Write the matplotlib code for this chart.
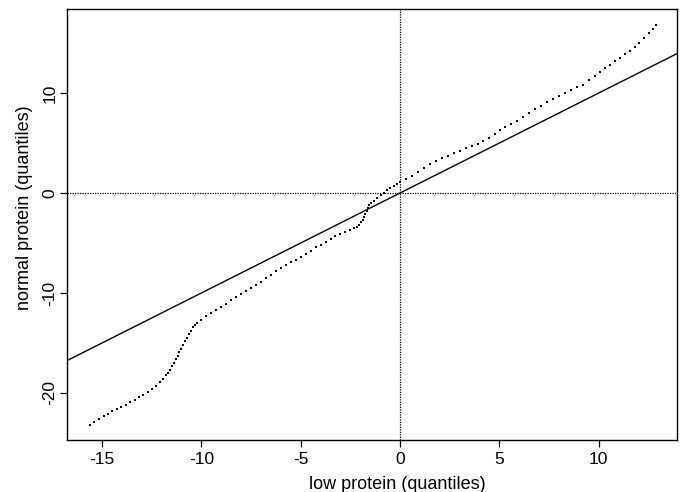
import matplotlib
matplotlib.use("Agg")
import matplotlib.pyplot as plt
import numpy as np

plt.rcParams['font.family'] = ['Liberation Sans', 'DejaVu Sans']

# quantiles (low protein vs normal protein)
low_q = [
    -15.6, -15.38, -15.15, -14.92, -14.7, -14.48, -14.25, -14.03, -13.8, -13.58,
    -13.36, -13.14, -12.92, -12.7, -12.5,
    -12.3, -12.1, -11.95, -11.8, -11.7, -11.6, -11.5, -11.4, -11.3, -11.2,
    -11.1, -11.0, -10.9, -10.8, -10.7, -10.6, -10.5, -10.4, -10.3, -10.2,
    -10.0, -9.75, -9.5, -9.25, -9.0, -8.75, -8.5, -8.25, -8.0, -7.75,
    -7.5, -7.25, -7.0, -6.75, -6.5, -6.25, -6.0, -5.75, -5.5, -5.25, -5.0,
    -4.75, -4.5, -4.25, -4.0, -3.75, -3.5, -3.25, -3.0, -2.75, -2.5, -2.3, -2.15,
    -2.05, -1.95, -1.87, -1.8, -1.74, -1.68, -1.62, -1.55, -1.45, -1.3,
    -1.15, -0.95, -0.8, -0.65, -0.5, -0.32, -0.15, 0.0,
    0.3, 0.6, 0.9, 1.2, 1.5, 1.8, 2.1, 2.4, 2.7, 3.0, 3.3, 3.6, 3.9, 4.2,
    4.5, 4.8, 5.05, 5.3, 5.6, 5.9, 6.2, 6.5, 6.8, 7.1, 7.4, 7.7, 8.0, 8.3,
    8.6, 8.9, 9.2, 9.5, 9.8, 10.05, 10.3, 10.55, 10.8, 11.05, 11.3, 11.55,
    11.8, 12.05, 12.3, 12.55, 12.75, 12.9,
]
normal_q = [
    -23.2, -22.95, -22.6, -22.35, -22.1, -21.85, -21.65, -21.45, -21.2, -20.95,
    -20.7, -20.45, -20.2, -19.9, -19.6,
    -19.3, -18.9, -18.6, -18.25, -18.0, -17.7, -17.35, -17.0, -16.65, -16.3,
    -15.95, -15.6, -15.2, -14.85, -14.5, -14.15, -13.8, -13.45, -13.2, -13.0,
    -12.7, -12.35, -12.05, -11.75, -11.45, -11.1, -10.75, -10.45, -10.1, -9.8,
    -9.5, -9.2, -8.9, -8.55, -8.25, -7.85, -7.5, -7.25, -6.95, -6.7, -6.4,
    -6.1, -5.8, -5.45, -5.2, -4.95, -4.6, -4.35, -4.15, -3.95, -3.75, -3.55, -3.4,
    -3.2, -2.95, -2.7, -2.4, -2.1, -1.8, -1.5, -1.2, -0.95, -0.75,
    -0.5, -0.2, 0.05, 0.3, 0.5, 0.75, 0.95, 1.1,
    1.4, 1.75, 2.1, 2.5, 2.9, 3.25, 3.5, 3.75, 4.0, 4.25, 4.5, 4.75, 4.95, 5.2,
    5.55, 5.95, 6.3, 6.6, 6.9, 7.25, 7.65, 8.05, 8.4, 8.75, 9.1, 9.4, 9.7, 10.0,
    10.3, 10.6, 10.85, 11.3, 11.75, 12.15, 12.5, 12.8, 13.2, 13.55, 13.9, 14.25,
    14.6, 15.0, 15.5, 16.0, 16.45, 16.8,
]
x_ticks = [-15, -10, -5, 0, 5, 10]
y_ticks = [-20, -10, 0, 10]

fig = plt.figure(figsize=(6.84, 4.92), dpi=100)
ax = fig.add_axes([0.098, 0.1057, 0.8918, 0.876])

xlim = (-16.76, 13.94)
ylim = (-24.7, 18.4)

# reference line y = x
ax.plot(xlim, xlim, color='black', linewidth=1.0)
ax.axhline(0, color='black', linewidth=0.9, linestyle=(0, (1, 1)))
ax.axvline(0, color='black', linewidth=0.9, linestyle=(0, (1, 1)))
ax.plot(low_q, normal_q, linestyle='none', marker='s', markersize=1.9,
        markeredgewidth=0, color='black')

ax.set_xlim(xlim)
ax.set_ylim(ylim)
ax.set_xticks(x_ticks)
ax.set_yticks(y_ticks)
ax.set_xticklabels([str(t) for t in x_ticks])
ax.set_yticklabels([str(t) for t in y_ticks], rotation=90, va='center')
ax.tick_params(direction='out', length=5, width=0.9, labelsize=12.5,
               top=False, right=False, colors='black')
ax.tick_params(axis='x', pad=3.5)
ax.tick_params(axis='y', pad=2)
for s in ax.spines.values():
    s.set_linewidth(1.0)

ax.set_xlabel('low protein (quantiles)', fontsize=13)
ax.set_ylabel('normal protein (quantiles)', fontsize=13)
ax.xaxis.set_label_coords(0.541, -0.084)
ax.yaxis.set_label_coords(-0.056, 0.54)

fig.savefig('out.png', dpi=100)
